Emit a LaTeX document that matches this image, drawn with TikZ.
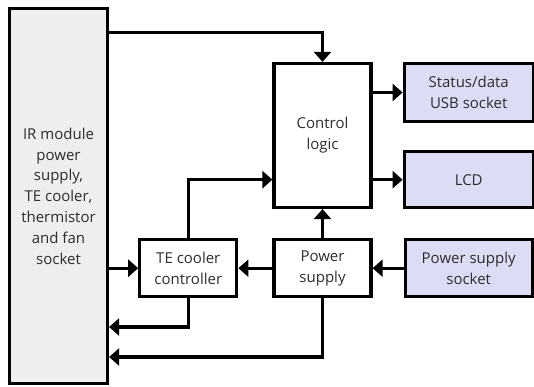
\documentclass[tikz,border=0pt]{standalone}
\usepackage{fontspec}
\setmainfont{Open Sans}
\usetikzlibrary{arrows.meta,positioning}

\definecolor{socketfill}{RGB}{220,220,245}
\definecolor{modulefill}{RGB}{238,238,238}
\definecolor{labeltext}{RGB}{45,45,45}

\begin{document}
\begin{tikzpicture}[
  x=1pt,y=1pt,
  box/.style={draw,line width=3.2pt,align=center,minimum width=97pt,minimum height=57pt,inner sep=0pt,text=labeltext,font=\fontsize{15}{20.8}\selectfont},
  socket/.style={box,fill=socketfill,minimum width=129pt},
  arr/.style={-{Triangle[length=10pt,width=17pt]},line width=3.2pt}
]
\useasboundingbox (0,0) rectangle (534,-387);
\node[box,fill=modulefill,minimum width=98pt,minimum height=375pt] (module) at (58.5,-196) {IR module\\power\\supply,\\TE cooler,\\thermistor\\and fan\\socket};
\node[box,minimum height=144pt] (control) at (322.5,-135.5) {Control\\logic};
\node[socket,minimum height=58pt,right=30pt of control.north east,anchor=north west] (usb) {Status/data\\USB socket};
\node[socket,minimum height=56pt,below=27pt of usb] (lcd) {LCD};
\node[box,below=29pt of control] (supply) {Power\\supply};
\node[socket,minimum width=127pt,right=31pt of supply] (mains) {Power supply\\socket};
\node[box,left=34pt of supply] (cooler) {TE cooler\\controller};
% signal paths
\draw[arr] ([yshift=-26pt]module.north east) -| (control.north);
\draw[arr] (control.east |- usb.west) -- (usb.west);
\draw[arr] (control.east |- lcd.west) -- (lcd.west);
\draw[arr] (cooler.north) |- (control.west |- lcd.west);
\draw[arr] (module.east |- cooler.west) -- (cooler.west);
% power paths
\draw[arr] (mains) -- (supply);
\draw[arr] (supply) -- (cooler);
\draw[arr] (supply) -- (control);
\draw[arr] (cooler.south) |- (module.east |- 0,-327);
\draw[arr] (supply.south) |- (module.east |- 0,-357);
\end{tikzpicture}
\end{document}
